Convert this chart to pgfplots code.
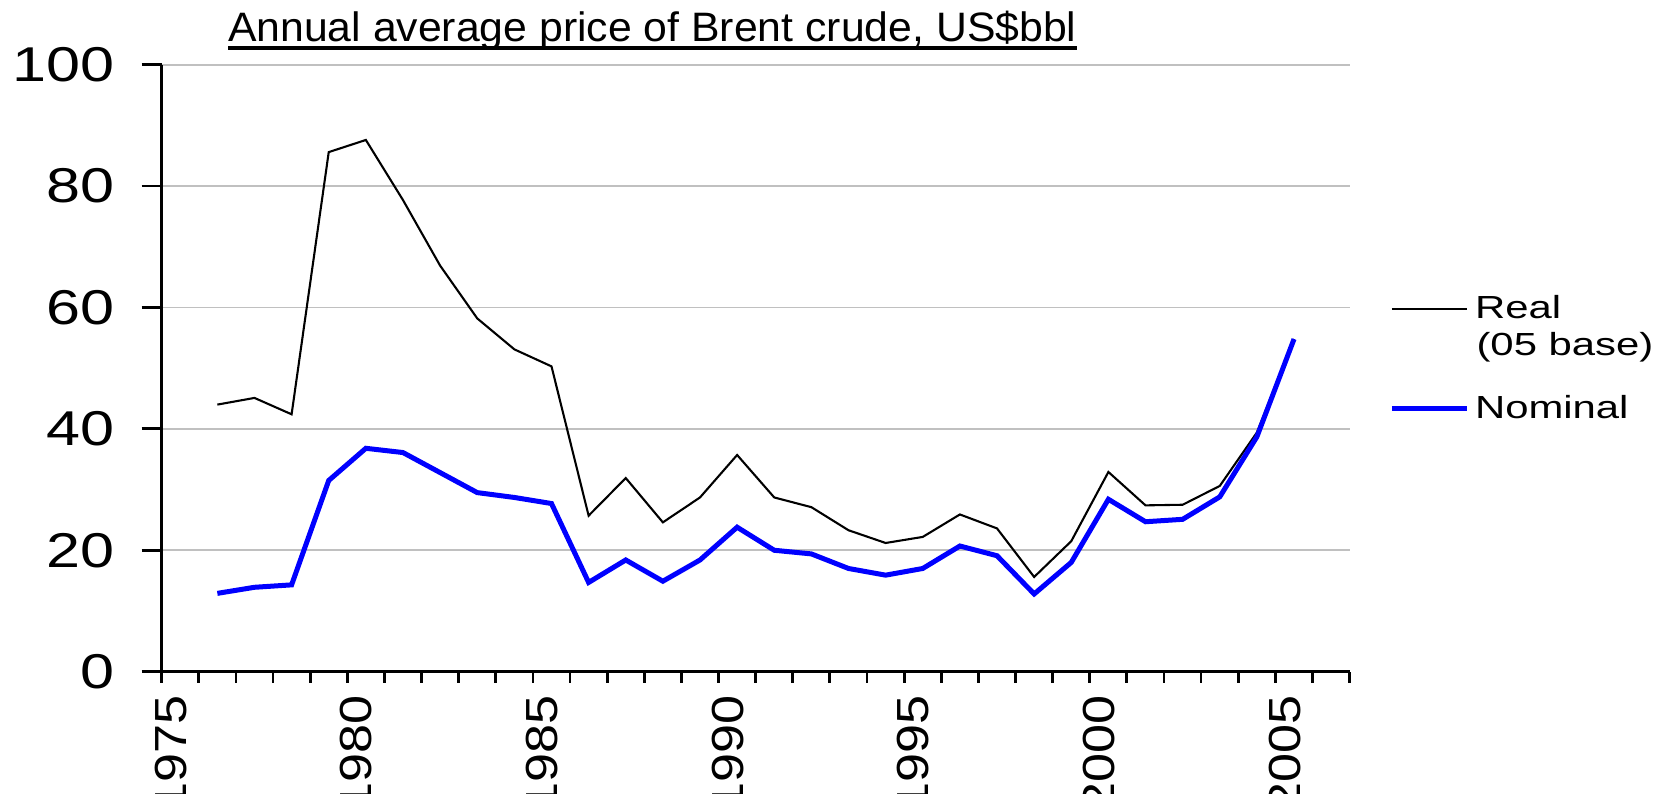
\documentclass[border=0pt]{standalone}
\usepackage{fontspec}
\setmainfont{Liberation Sans}
\usepackage{pgfplots}
\pgfplotsset{compat=1.18}
\definecolor{gridgray}{RGB}{192,192,192}
\definecolor{nomblue}{RGB}{0,0,255}
% Excel-style stretched glyphs
\newcommand\ytl[1]{\scalebox{1.25}[1]{#1}}
\newcommand\xtl[1]{\scalebox{1.16}[1]{#1}}
\newcommand\lgt[1]{\scalebox{1.31}[1]{#1}}
\newcommand\ulined[1]{\setbox0\hbox{#1}\rlap{\raisebox{-2.9pt}{\rule{\wd0}{1.4pt}}}\box0}

\pgfplotstableread{
year real nominal
1976.5 44.0 12.9
1977.5 45.1 13.9
1978.5 42.4 14.3
1979.5 85.6 31.5
1980.5 87.6 36.8
1981.5 77.7 36.1
1982.5 66.9 32.8
1983.5 58.2 29.5
1984.5 53.1 28.7
1985.5 50.3 27.7
1986.5 25.7 14.7
1987.5 31.9 18.4
1988.5 24.6 14.9
1989.5 28.7 18.4
1990.5 35.7 23.8
1991.5 28.7 20.0
1992.5 27.1 19.4
1993.5 23.3 17.0
1994.5 21.2 15.9
1995.5 22.2 17.0
1996.5 25.9 20.7
1997.5 23.6 19.1
1998.5 15.6 12.8
1999.5 21.5 18.0
2000.5 32.9 28.4
2001.5 27.4 24.7
2002.5 27.5 25.1
2003.5 30.6 28.8
2004.5 39.4 38.7
2005.5 54.8 54.8
}\brent

\begin{document}
\begin{tikzpicture}
\begin{axis}[
  scale only axis, width=427.7pt, height=218.5pt,
  xmin=1975, xmax=2007, ymin=0, ymax=100,
  axis x line*=bottom, axis y line*=left,
  axis line style={line width=1pt, -},
  tick align=outside,
  major tick length=7.2pt, minor tick length=4pt,
  tick style={line width=1pt, black},
  xtick={1975,1980,...,2005},
  xticklabels={\xtl{1975},\xtl{1980},\xtl{1985},\xtl{1990},\xtl{1995},\xtl{2000},\xtl{2005}},
  minor xtick={1975,...,2007},
  major x tick style={draw=none},
  xticklabel shift=-2.3pt,
  xticklabel style={font=\fontsize{16.2}{18}\selectfont, xshift=3.3pt, rotate=90, anchor=east},
  ytick={0,20,...,100},
  yticklabels={\ytl{0},\ytl{20},\ytl{40},\ytl{60},\ytl{80},\ytl{100}},
  yticklabel style={font=\fontsize{17.6}{20}\selectfont, anchor=east, xshift=-6.3pt},
  ymajorgrids, grid style={gridgray, line width=0.7pt},
  legend style={draw=none, fill=none, at={(1.033,0.63)}, anchor=north west,
    inner sep=0pt, row sep=22pt, font=\fontsize{11.5}{13}\selectfont},
  legend cell align=left,
  legend image code/.code={\draw[#1] (0pt,0pt) -- (27pt,0pt);},
  clip=false,
]
\addplot[black, line width=0.75pt] table[x=year, y=real] {\brent};
\addlegendentry{\lgt{Real}}
\addplot[nomblue, line width=1.8pt] table[x=year, y=nominal] {\brent};
\addlegendentry{\lgt{Nominal}}
% second line of the "Real" legend entry
\node[anchor=base west, inner sep=0pt, font=\fontsize{11.5}{13}\selectfont]
  at (rel axis cs:1.1063,0.5202) {\lgt{(05 base)}};
\node[anchor=base, font=\fontsize{14.8}{17}\selectfont] at (rel axis cs:0.413,1) [yshift=8.2pt]
  {\ulined{\scalebox{1.04}[1]{Annual average price of Brent crude, US\$bbl}}};
\end{axis}
\pgfresetboundingbox
\useasboundingbox (-58.2pt,-43.7pt) rectangle (541.2pt,241.8pt);
\end{tikzpicture}
\end{document}
